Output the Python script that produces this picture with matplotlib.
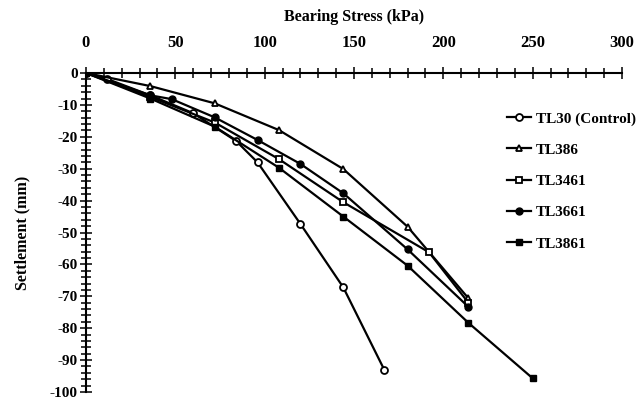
import matplotlib
matplotlib.use("Agg")
import matplotlib.pyplot as plt
from matplotlib.ticker import MultipleLocator

plt.rcParams['font.family'] = ['Liberation Serif', 'DejaVu Serif']
plt.rcParams['font.weight'] = 'bold'
plt.rcParams['axes.unicode_minus'] = False

# Data (bearing stress kPa, settlement mm)
tl30_x = [0, 12, 36, 60, 84, 96, 120, 144, 167]
tl30_y = [0, -1.9, -7.0, -12.6, -21.3, -28.0, -47.3, -67.2, -93.1]

tl386_x = [0, 36, 72, 108, 144, 180, 214]
tl386_y = [0, -4.1, -9.5, -17.9, -30.1, -48.2, -70.6]

tl3461_x = [0, 36, 72, 108, 144, 192, 214]
tl3461_y = [0, -7.5, -15.5, -27.0, -40.5, -56.2, -72.0]

tl3661_x = [0, 36, 48, 72, 96, 120, 144, 180, 214]
tl3661_y = [0, -7.0, -8.2, -13.9, -21.0, -28.5, -37.7, -55.3, -73.3]

tl3861_x = [0, 36, 72, 108, 144, 180, 214, 250]
tl3861_y = [0, -8.0, -16.8, -29.7, -45.0, -60.4, -78.3, -95.7]

labels = ['TL30 (Control)', 'TL386', 'TL3461', 'TL3661', 'TL3861']
x_ticks = [0, 50, 100, 150, 200, 250, 300]
y_ticks = [0, -10, -20, -30, -40, -50, -60, -70, -80, -90, -100]

fig = plt.figure(figsize=(6.42, 4.00), dpi=100)
ax = fig.add_axes([86/642, 8/400, (622-86)/642, (392-73)/400])

lw = 1.6
ms = 5
ax.plot(tl30_x, tl30_y, color='black', lw=lw, marker='o', ms=ms,
        mfc='white', mec='black', mew=1.3, label=labels[0])
ax.plot(tl386_x, tl386_y, color='black', lw=lw, marker='^', ms=ms,
        mfc='white', mec='black', mew=1.3, label=labels[1])
ax.plot(tl3461_x, tl3461_y, color='black', lw=lw, marker='s', ms=ms,
        mfc='white', mec='black', mew=1.3, label=labels[2])
ax.plot(tl3661_x, tl3661_y, color='black', lw=lw, marker='o', ms=ms,
        mfc='black', mec='black', label=labels[3])
ax.plot(tl3861_x, tl3861_y, color='black', lw=lw, marker='s', ms=ms,
        mfc='black', mec='black', label=labels[4])

ax.set_xlim(0, 300)
ax.set_ylim(-100, 0)
for s in ['right', 'bottom']:
    ax.spines[s].set_visible(False)
for s in ['left', 'top']:
    ax.spines[s].set_linewidth(1.5)

ax.xaxis.tick_top()
ax.xaxis.set_label_position('top')
ax.set_xticks(x_ticks)
ax.set_yticks(y_ticks)
ax.xaxis.set_minor_locator(MultipleLocator(10))
ax.yaxis.set_minor_locator(MultipleLocator(2))
ax.tick_params(which='both', direction='inout', width=1.1)
ax.tick_params(axis='x', labelsize=12, pad=12)
ax.tick_params(axis='y', labelsize=11, pad=2)
ax.tick_params(which='major', length=8)
ax.tick_params(which='minor', length=7)
for t in ax.get_xticklabels() + ax.get_yticklabels():
    t.set_fontweight('bold')

ax.set_xlabel('Bearing Stress (kPa)', fontsize=11.5, fontweight='bold', labelpad=10)
ax.set_ylabel('Settlement (mm)', fontsize=11.5, fontweight='bold', labelpad=14)

leg = fig.legend(loc='upper left', bbox_to_anchor=(499/642, 1 - 104/400),
                 frameon=False, fontsize=11, handlelength=1.6,
                 handletextpad=0.3, labelspacing=1.15, borderpad=0)
for t in leg.get_texts():
    t.set_fontweight('bold')

fig.savefig('out.png', dpi=100)
